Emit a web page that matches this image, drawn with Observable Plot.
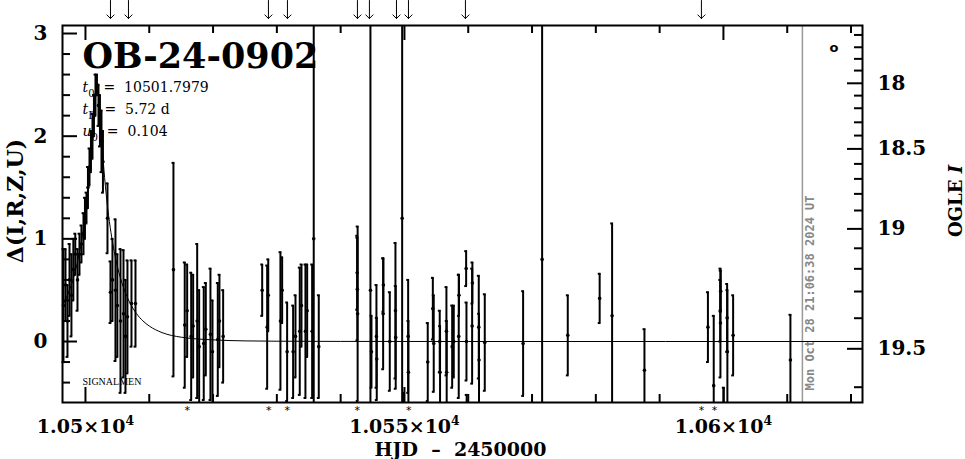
<!DOCTYPE html>
<html>
<head>
<meta charset="utf-8">
<script src="https://cdn.jsdelivr.net/npm/d3@7"></script>
<script src="https://cdn.jsdelivr.net/npm/@observablehq/plot@0.6"></script>
<style>
  html, body { margin: 0; padding: 0; background: #fff; }
</style>
</head>
<body>
<div id="chart"></div>
<script>
// ---------------- data ----------------
const eventName = "OB-24-0902";
const paramLines = [
  "<i>t</i><sub>0</sub>\u00a0\u00a0=\u00a0\u00a010501.7979",
  "<i>t</i><sub>E</sub>\u00a0\u00a0=\u00a0\u00a05.72 d",
  "<i>u</i><sub>0</sub>\u00a0\u00a0=\u00a0\u00a00.104"
];
const observatoryTag = "SIGNALMEN";

// observations: HJD-2450000, Δ, error
const hjd = [
  10496.55,10496.87,10497.18,10497.50,10497.80,10498.10,10498.40,10498.75,10499.06,10499.37,
  10499.69,10499.92,10500.16,10500.39,10500.63,10500.86,10501.10,10501.33,10501.57,10501.80,
  10502.04,10502.27,10502.51,10502.74,10503.45,10503.92,10504.23,10504.70,10505.00,10505.49,
  10505.96,10506.27,10506.58,10507.21,10507.84,
  10513.79,10515.56,10515.94,10516.57,10516.88,10517.51,10517.82,10518.54,10518.86,10519.59,
  10519.91,10520.74,10521.00,10521.58,
  10527.70,10528.48,10528.65,10530.56,10530.83,10531.61,10532.55,10532.92,10533.59,10533.86,
  10534.48,10534.75,10535.53,10535.78,10536.57,
  10542.59,10542.62,10542.66,10544.67,10544.83,10545.61,10545.66,10546.66,10546.70,10547.70,
  10548.59,10548.63,10549.64,10549.90,10550.58,10550.62,
  10553.65,10554.59,10554.45,10555.53,10555.58,10556.58,10556.62,10557.48,10557.73,10558.51,
  10558.55,10559.67,10559.72,10559.75,10560.61,10560.65,10561.65,10561.69,10562.59,
  10568.60,10571.58,10575.60,10580.60,10582.55,10587.62,10597.57,10598.48,10599.53,10599.57,
  10599.50,10600.05,10600.58,10600.62,10601.52,10610.50
];
const delta = [
  0.35,0.55,0.20,0.60,0.45,0.70,0.85,0.60,0.85,0.95,
  1.05,1.20,1.30,1.50,1.70,1.85,2.00,2.20,2.40,2.50,
  2.30,2.15,1.95,1.75,1.20,0.48,0.60,0.50,0.35,0.20,
  0.27,0.05,0.24,0.37,0.37,
  0.70,0.16,0.30,0.05,0.15,0.20,-0.05,-0.02,0.12,0.07,
  -0.10,0.02,0.20,0.05,
  0.50,0.14,0.45,0.20,0.50,-0.10,-0.10,0.05,0.10,0.35,
  0.10,0.30,0.10,1.00,-0.05,
  0.67,0.51,0.27,0.50,-0.10,0.05,-0.17,0.27,0.55,0.00,
  0.30,0.04,1.20,-0.75,0.05,-0.30,
  -0.20,-0.02,0.32,0.00,-0.30,0.10,-0.30,-0.05,0.00,0.05,
  0.45,0.71,0.00,-0.80,0.15,0.57,0.14,-0.18,-0.01,
  -0.02,0.80,0.06,0.42,0.25,-0.28,0.14,-0.43,0.18,0.49,
  0.30,-0.70,0.23,-0.10,0.06,-0.18
];
const sigma = [
  0.55,0.35,0.35,0.35,0.40,0.30,0.20,0.30,0.20,0.18,
  0.20,0.20,0.15,0.20,0.18,0.20,0.22,0.20,0.20,0.10,
  0.20,0.25,0.30,0.30,0.34,0.30,0.40,0.69,0.50,0.70,
  0.62,0.55,0.55,0.42,0.42,
  1.04,0.61,0.45,0.62,0.50,0.75,0.55,0.55,0.45,0.64,
  0.50,0.55,0.45,0.45,
  0.25,0.60,0.35,0.67,0.32,0.48,0.45,0.40,0.62,0.40,
  0.65,0.45,0.65,3.00,0.50,
  0.36,0.50,0.85,3.50,0.35,0.50,0.40,0.54,0.26,0.48,
  0.66,0.50,3.00,0.25,0.55,0.50,
  0.38,0.47,0.30,0.30,0.45,0.43,0.50,0.40,0.35,0.60,
  0.20,0.17,0.38,0.28,0.56,0.20,0.50,0.45,0.47,
  0.51,3.50,0.39,0.24,0.90,0.40,0.34,0.68,0.53,0.20,
  0.30,0.25,0.33,0.60,0.39,0.44
];

// model curve
const modelHJD = [10496.4,10497,10497.5,10498,10498.5,10499,10499.5,10500,10500.5,10501,10501.2,10501.4,
  10501.6,10501.8,10502,10502.2,10502.4,10502.6,10503,10503.5,10504,10504.5,10505,10506,10507,10508,10509,
  10510,10512,10515,10520,10525,10530,10540,10560,10621.8];
const modelDelta = [0.350,0.425,0.502,0.594,0.708,0.848,1.022,1.243,1.532,1.911,2.085,2.264,
  2.406,2.461,2.403,2.260,2.080,1.907,1.597,1.293,1.060,0.878,0.732,0.519,0.373,0.272,0.201,
  0.151,0.087,0.042,0.016,0.006,0.003,0.001,0.000,0.000];

// markers
const arrowHJD = [10503.92,10506.74,10528.68,10531.66,10542.63,10544.51,10548.75,10550.63,10559.56,10596.55];
const starHJD = [10515.94,10528.73,10531.61,10542.59,10550.67,10596.55,10598.59];
const nowHJD = 10612.38;
const nowLabel = "Mon Oct 28 21:06:38 2024 UT";

// axes
const xDomain = [10496.4, 10621.8];
const yDomain = [-0.594, 3.078];
const xMinorTicks = [10510,10520,10530,10540,10560,10570,10580,10590,10610,10620];
const xMajorTicks = [10500,10550,10600];
const xMajorLabels = ["1.05×10<sup>4</sup>","1.055×10<sup>4</sup>","1.06×10<sup>4</sup>"];
const yMinorTicks = [-0.4,-0.2,0.2,0.4,0.6,0.8,1.2,1.4,1.6,1.8,2.2,2.4,2.6,2.8];
const yMajorTicks = [0,1,2,3];
const ogleMag = [17.6,17.7,17.8,17.9,18.0,18.1,18.2,18.3,18.4,18.5,18.6,18.7,18.8,18.9,19.0,19.1,19.2,19.3,19.4,19.5,19.6];
const ogleDelta = [2.986,2.866,2.753,2.639,2.515,2.395,2.272,2.135,2.006,1.876,1.730,1.584,1.438,1.276,1.097,0.908,0.708,0.487,0.227,-0.071,-0.445];
const ogleMajorLabels = ["18","18.5","19","19.5"];
const xTitle = "HJD\u00a0\u00a0\u2013\u00a0\u00a02450000";
const yTitle = "Δ(I,R,Z,U)";
const y2Title = "OGLE <i>I</i>";

// ---------------- build ----------------
const W = 965, H = 459, mt = 25, mb = 57, ml = 62, mr = 103;
const innerW = W - ml - mr, innerH = H - mt - mb;
const clampY = v => Math.max(yDomain[0], Math.min(yDomain[1], v));

const obs = hjd.map((t, i) => ({t, v: delta[i], e: sigma[i]}));
const caps = obs.flatMap(d => [d.v - d.e, d.v + d.e]
  .filter(y => y > yDomain[0] && y < yDomain[1]).map(y => ({t: d.t, y})));
const model = modelHJD.map((t, i) => ({t, v: modelDelta[i]}));
const ogle = ogleMag.map((m, i) => ({m, d: ogleDelta[i], major: Math.abs(m * 2 - Math.round(m * 2)) < 1e-6}));
const ogleMajor = ogle.filter(o => o.major).map((o, i) => ({...o, label: ogleMajorLabels[i]}));

const serif = "DejaVu Serif";
const tickLen = 8, majLen = 15;
const paramOffsets = [57, 79, 101];

const plot = Plot.plot({
  width: W, height: H,
  marginTop: mt, marginBottom: mb, marginLeft: ml, marginRight: mr,
  style: {fontFamily: serif, background: "white", color: "black", overflow: "visible"},
  x: {domain: xDomain, axis: null},
  y: {domain: yDomain, axis: null},
  marks: [
    // "now" line
    Plot.ruleX([nowHJD], {x: d => d, stroke: "#999", strokeWidth: 1.5}),
    Plot.text([nowLabel], {x: () => nowHJD, text: d => d, frameAnchor: "bottom", rotate: -90, textAnchor: "start",
      lineAnchor: "middle", dx: 8, dy: -12, fill: "#888", fontFamily: "DejaVu Sans Mono", fontWeight: "bold", fontSize: 12}),
    // model
    Plot.line(model, {x: "t", y: "v", stroke: "black", strokeWidth: 1, curve: "monotone-x"}),
    // error bars
    Plot.ruleX(obs, {x: "t", y1: d => clampY(d.v - d.e), y2: d => clampY(d.v + d.e), stroke: "black", strokeWidth: 2}),
    Plot.ruleY(caps, {y: "y", x1: d => d.t - 0.22, x2: d => d.t + 0.22, stroke: "black", strokeWidth: 2}),
    Plot.dot(obs.filter(d => d.v > yDomain[0] && d.v < yDomain[1]), {x: "t", y: "v", r: 1.8, fill: "black"}),
    // frame
    Plot.frame({stroke: "black", strokeWidth: 2}),
    // x ticks (bottom & top, inward)
    Plot.ruleX(xMinorTicks, {x: d => d, insetTop: innerH - tickLen, strokeWidth: 2}),
    Plot.ruleX(xMinorTicks, {x: d => d, insetBottom: innerH - tickLen, strokeWidth: 2}),
    Plot.ruleX(xMajorTicks, {x: d => d, insetTop: innerH - majLen, strokeWidth: 2}),
    Plot.ruleX(xMajorTicks, {x: d => d, insetBottom: innerH - majLen, strokeWidth: 2}),
    // y ticks (left)
    Plot.ruleY(yMinorTicks, {y: d => d, insetRight: innerW - tickLen, strokeWidth: 2}),
    Plot.ruleY(yMajorTicks, {y: d => d, insetRight: innerW - majLen, strokeWidth: 2}),
    // OGLE I ticks (right)
    Plot.ruleY(ogle.filter(o => !o.major), {y: "d", insetLeft: innerW - tickLen, strokeWidth: 2}),
    Plot.ruleY(ogleMajor, {y: "d", insetLeft: innerW - majLen, strokeWidth: 2}),
    // tick labels
    Plot.text(xMajorTicks, {x: d => d, text: (d, i) => xMajorLabels[i], frameAnchor: "bottom", dy: 30,
      fontSize: 19, fontWeight: "bold"}),
    Plot.text(yMajorTicks, {y: d => d, text: d => String(d), frameAnchor: "left", dx: -15, textAnchor: "end",
      fontSize: 20, fontWeight: "bold"}),
    Plot.text(ogleMajor, {y: "d", text: "label", frameAnchor: "right", dx: 15, textAnchor: "start",
      fontSize: 20, fontWeight: "bold"}),
    // axis titles
    Plot.text([xTitle], {text: d => d, frameAnchor: "bottom", dy: 53, dx: -2, fontSize: 19, fontWeight: "bold"}),
    Plot.text([yTitle], {text: d => d, frameAnchor: "left", textAnchor: "middle", lineAnchor: "middle",
      dx: -47, dy: -13, rotate: -90, fontSize: 22, fontWeight: "bold", letterSpacing: 1}),
    Plot.text([y2Title], {text: d => d, frameAnchor: "right", textAnchor: "middle", lineAnchor: "middle",
      dx: 94, dy: -13, rotate: -90, fontSize: 18, fontWeight: "bold"}),
    // annotations
    Plot.text([eventName], {text: d => d, frameAnchor: "top-left", lineAnchor: "top", dx: 20, dy: 18,
      fontSize: 35, fontWeight: "bold"}),
    ...paramLines.map((line, i) => Plot.text([line], {text: d => d, frameAnchor: "top-left", lineAnchor: "top",
      dx: 20, dy: paramOffsets[i], fontSize: 14})),
    Plot.text([observatoryTag], {text: d => d, frameAnchor: "bottom-left", lineAnchor: "bottom", dx: 20, dy: -18,
      fontSize: 10, fontFamily: "Liberation Serif"}),
    Plot.text(["o"], {text: d => d, frameAnchor: "top-right", lineAnchor: "top", dx: -24, dy: 17, fontSize: 13,
      fontWeight: "bold", fontFamily: "DejaVu Sans"}),
    // markers
    Plot.vector(arrowHJD, {x: d => d, frameAnchor: "top", length: 18, rotate: 180, anchor: "end", dy: -7,
      stroke: "black", strokeWidth: 1}),
    Plot.text(starHJD, {x: d => d, text: () => "*", frameAnchor: "bottom", lineAnchor: "middle", dy: 8,
      fontSize: 11, fontFamily: "DejaVu Sans"})
  ]
});

document.getElementById("chart").appendChild(plot);

// rich text: <i>, <sub>, <sup>
(function richify(svg) {
  const NS = "http://www.w3.org/2000/svg";
  svg.querySelectorAll("text").forEach(el => {
    const s = el.textContent;
    if (!/<(i|sub|sup)>/.test(s)) return;
    const fs = parseFloat(getComputedStyle(el).fontSize) || 14;
    el.textContent = "";
    const re = /<(i|sub|sup)>(.*?)<\/\1>|([^<]+)/g;
    let m, shift = 0;
    while ((m = re.exec(s))) {
      const t = document.createElementNS(NS, "tspan");
      let target = 0;
      if (m[1] === "i") { t.setAttribute("font-style", "italic"); t.textContent = m[2]; }
      else if (m[1] === "sub") { target = fs * 0.35; t.setAttribute("font-size", fs * 0.72); t.textContent = m[2]; }
      else if (m[1] === "sup") { target = -fs * 0.42; t.setAttribute("font-size", fs * 0.65); t.textContent = m[2]; }
      else t.textContent = m[3];
      if (target !== shift) { t.setAttribute("dy", target - shift); shift = target; }
      el.appendChild(t);
    }
  });
})(plot);
</script>
</body>
</html>
